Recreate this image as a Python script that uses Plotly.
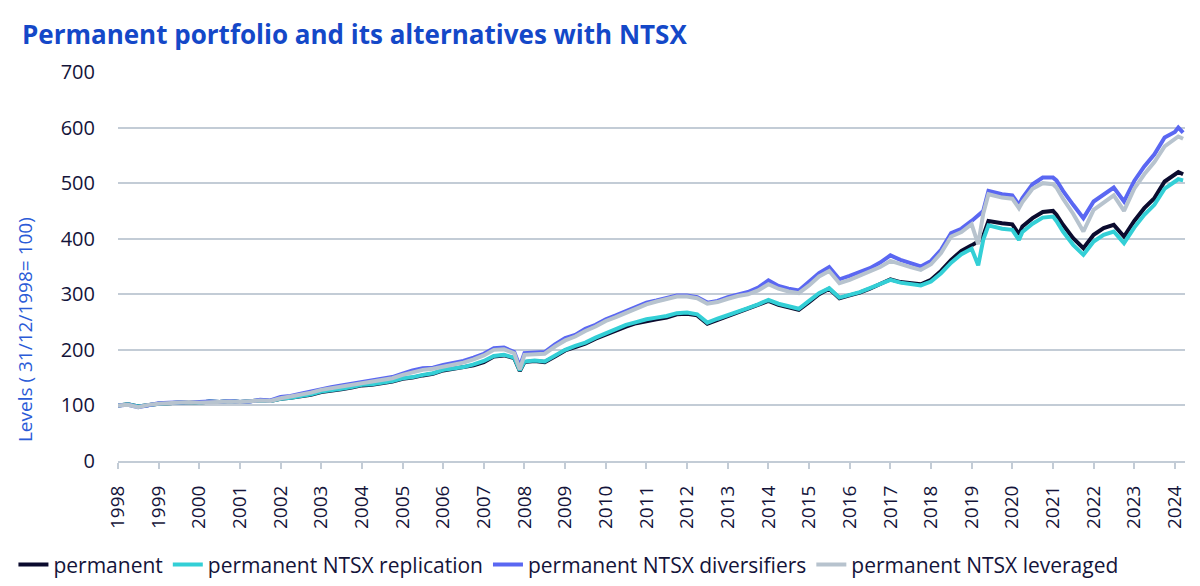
import plotly.graph_objects as go

# dates (shared) and index levels, 31/12/1998 = 100
dates = [
    "1998-01-01", "1998-04-01", "1998-07-01", "1998-10-01",
    "1999-01-01", "1999-04-01", "1999-07-01", "1999-10-01",
    "2000-01-01", "2000-04-01", "2000-07-01", "2000-10-01",
    "2001-01-01", "2001-04-01", "2001-07-01", "2001-10-01",
    "2002-01-01", "2002-04-01", "2002-07-01", "2002-10-01",
    "2003-01-01", "2003-04-01", "2003-07-01", "2003-10-01",
    "2004-01-01", "2004-04-01", "2004-07-01", "2004-10-01",
    "2005-01-01", "2005-04-01", "2005-07-01", "2005-10-01",
    "2006-01-01", "2006-04-01", "2006-07-01", "2006-10-01",
    "2007-01-01", "2007-04-01", "2007-07-01", "2007-10-01", "2007-11-20",
    "2008-01-01", "2008-04-01", "2008-07-01", "2008-10-01",
    "2009-01-01", "2009-04-01", "2009-07-01", "2009-10-01",
    "2010-01-01", "2010-04-01", "2010-07-01", "2010-10-01",
    "2011-01-01", "2011-04-01", "2011-07-01", "2011-10-01",
    "2012-01-01", "2012-04-01", "2012-07-01", "2012-10-01",
    "2013-01-01", "2013-04-01", "2013-07-01", "2013-10-01",
    "2014-01-01", "2014-04-01", "2014-07-01", "2014-10-01",
    "2015-01-01", "2015-04-01", "2015-07-01", "2015-10-01",
    "2016-01-01", "2016-04-01", "2016-07-01", "2016-10-01",
    "2017-01-01", "2017-04-01", "2017-07-01", "2017-10-01",
    "2018-01-01", "2018-04-01", "2018-07-01", "2018-10-01",
    "2019-01-01", "2019-03-01", "2019-04-15", "2019-06-01", "2019-10-01",
    "2020-01-01", "2020-03-01", "2020-04-01", "2020-07-01", "2020-10-01",
    "2021-01-01", "2021-02-01", "2021-04-01", "2021-07-01", "2021-10-01",
    "2022-01-01", "2022-04-01", "2022-07-01", "2022-10-01",
    "2023-01-01", "2023-04-01", "2023-07-01", "2023-10-01",
    "2024-01-01", "2024-02-01", "2024-03-15",
]

permanent = [
    100, 102, 98, 101, 103, 104, 105, 106, 105, 107, 106, 108,
    106, 107, 109, 108, 112, 114, 116, 119, 124, 126, 129, 132,
    136, 137, 140, 143, 148, 150, 154, 157, 163, 166, 168, 172,
    178, 188, 190, 185, 162, 178, 180, 178, 188, 199, 205, 211, 220,
    228, 235, 242, 248, 252, 255, 258, 264, 265, 262, 247, 254,
    260, 266, 273, 280, 288, 281, 276, 272, 286, 300, 310, 293,
    298, 303, 310, 318, 327, 322, 320, 318, 326, 342, 362, 378,
    388, 395, 405, 432, 428, 426, 408, 422, 437, 448,
    450, 443, 425, 401, 383, 407, 419, 425, 404,
    432, 455, 473, 503, 515, 520, 516,
]

replication = [
    100, 102, 98, 101, 103, 104, 105, 106, 105, 107, 106, 108,
    106, 107, 109, 108, 112, 114, 117, 120, 125, 127, 130, 133,
    137, 138, 141, 144, 149, 151, 155, 158, 164, 167, 169, 174,
    180, 189, 191, 186, 163, 179, 181, 179, 190, 200, 207, 213, 222,
    230, 237, 245, 250, 255, 258, 261, 266, 267, 264, 249, 256,
    262, 268, 275, 282, 290, 283, 278, 274, 288, 302, 311, 294,
    299, 304, 311, 318, 326, 321, 318, 316, 323, 338, 357, 372,
    382, 352, 398, 424, 418, 416, 398, 412, 427, 438,
    440, 432, 413, 389, 371, 395, 407, 413, 392,
    420, 443, 461, 490, 502, 507, 505,
]

diversifiers = [
    100, 101, 97, 101, 104, 105, 106, 106, 106, 107, 106, 108,
    106, 107, 110, 109, 115, 117, 121, 125, 130, 133, 136, 139,
    142, 145, 148, 151, 157, 163, 167, 168, 173, 176, 180, 186,
    193, 203, 204, 196, 170, 194, 195, 196, 210, 221, 227, 238, 245,
    255, 262, 270, 278, 285, 289, 293, 298, 298, 295, 285, 288,
    295, 300, 304, 312, 325, 315, 310, 307, 322, 338, 349, 327,
    333, 340, 347, 357, 370, 362, 356, 350, 360, 380, 410, 418,
    432, 443, 450, 486, 480, 478, 461, 473, 498, 510,
    510, 505, 486, 461, 437, 467, 480, 492, 467,
    504, 530, 552, 582, 592, 600, 591,
]

leveraged = [
    100, 101, 97, 101, 103, 104, 105, 106, 105, 106, 106, 107,
    106, 107, 109, 108, 113, 116, 119, 123, 128, 131, 134, 137,
    140, 143, 146, 149, 155, 160, 164, 166, 170, 174, 177, 183,
    190, 200, 201, 194, 165, 191, 192, 193, 206, 217, 224, 234, 242,
    252, 259, 267, 275, 282, 287, 291, 296, 296, 293, 283, 286,
    292, 297, 300, 307, 318, 310, 305, 302, 316, 332, 342, 320,
    326, 333, 340, 349, 360, 354, 349, 344, 354, 374, 404, 412,
    426, 390, 445, 480, 474, 472, 455, 466, 490, 500,
    498, 492, 472, 445, 413, 452, 466, 478, 450,
    490, 516, 538, 566, 578, 584, 580,
]

names = [
    "permanent",
    "permanent NTSX replication",
    "permanent NTSX diversifiers",
    "permanent NTSX leveraged",
]
colors = ["#0b0b2e", "#33cfd6", "#5a67f2", "#b7c3ce"]

fig = go.Figure()
for name, vals, col in zip(names, [permanent, replication, diversifiers, leveraged], colors):
    fig.add_trace(go.Scatter(x=dates, y=vals, name=name, mode="lines",
                             line=dict(color=col, width=4)))

# page body has an 8px margin, so the figure is drawn 8px smaller
fig.update_layout(
    width=1192, height=578,
    margin=dict(l=110, r=15, t=64, b=125, autoexpand=False),
    paper_bgcolor="white", plot_bgcolor="white",
    font=dict(family="Open Sans", color="#14143a", size=16),
    title=dict(text="<b>Permanent portfolio and its alternatives with NTSX</b>",
               x=0.0117, xanchor="left", y=0.953, yanchor="middle",
               font=dict(size=26, color="#1448c8")),
    showlegend=True,
    legend=dict(orientation="h", x=-0.098, xanchor="left", y=-0.267, yanchor="middle",
                font=dict(size=21, color="#14143a"), traceorder="normal",
                itemwidth=30, tracegroupgap=0),
    annotations=[dict(text="Levels ( 31/12/1998= 100)", xref="paper", yref="paper",
                      x=-0.087, y=0.337, xanchor="center", yanchor="middle",
                      textangle=-90, showarrow=False,
                      font=dict(size=19, color="#2a5bd7"))],
)

fig.update_xaxes(
    type="date", range=["1998-01-01", "2024-04-01"],
    dtick="M12", tick0="1998-01-01", tickformat="%Y", tickangle=-90,
    showgrid=False, showline=True, linecolor="#c3ccd6", linewidth=2,
    ticks="outside", ticklen=6, tickcolor="#c3ccd6", tickwidth=2,
    tickfont=dict(size=19), ticklabelstandoff=9,
)
fig.update_yaxes(
    range=[0, 700], dtick=100,
    showgrid=True, gridcolor="#c3ccd6", gridwidth=2,
    zeroline=False, tickfont=dict(size=20), ticklabelstandoff=22,
)

fig.write_html("out.html")
